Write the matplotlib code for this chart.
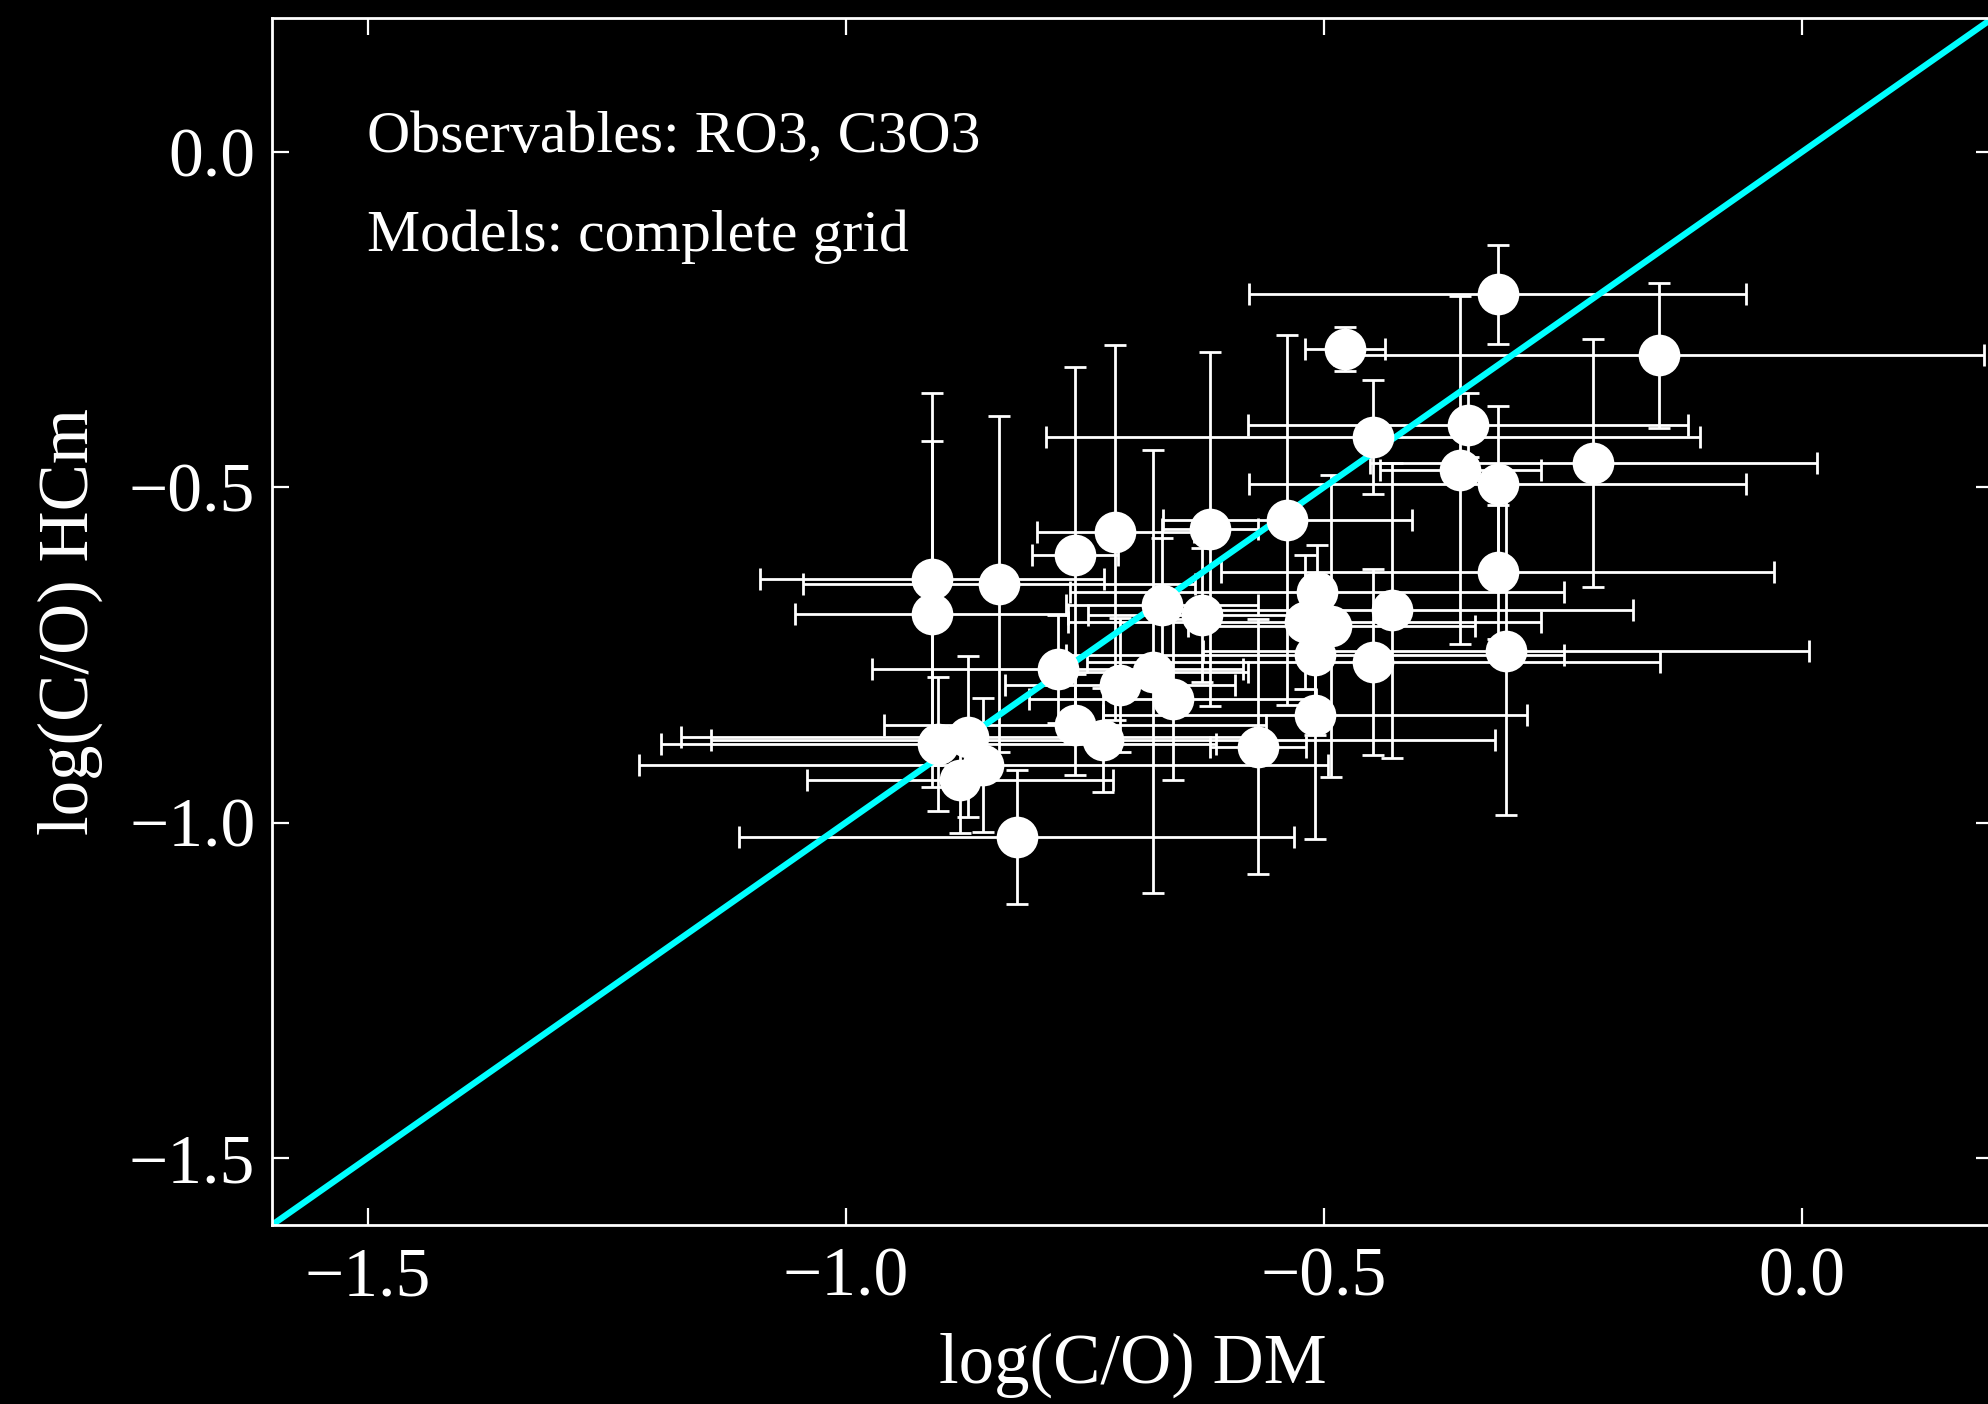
import matplotlib
matplotlib.use('Agg')
import matplotlib.pyplot as plt
import numpy as np

# --- data ---
co_dm = [-0.318, -0.478, -0.149, -0.349, -0.448, -0.218, -0.357, -0.318, -0.538, -0.619,
         -0.718, -0.760, -0.318, -0.910, -0.840, -0.507, -0.669, -0.627, -0.429, -0.910,
         -0.520, -0.492, -0.509, -0.309, -0.448, -0.778, -0.679, -0.713, -0.658, -0.509,
         -0.760, -0.731, -0.569, -0.903, -0.872, -0.856, -0.880, -0.821]
co_hcm = [-0.212, -0.294, -0.303, -0.407, -0.425, -0.464, -0.474, -0.495, -0.549, -0.562,
          -0.567, -0.601, -0.626, -0.637, -0.644, -0.656, -0.676, -0.690, -0.683, -0.689,
          -0.701, -0.707, -0.750, -0.744, -0.760, -0.771, -0.775, -0.795, -0.816, -0.839,
          -0.854, -0.877, -0.887, -0.883, -0.872, -0.914, -0.936, -1.021]
err_dm = [0.26, 0.042, 0.34, 0.23, 0.342, 0.234, 0.084, 0.26, 0.13, 0.05,
          0.082, 0.045, 0.289, 0.18, 0.205, 0.258, 0.10, 0.12, 0.252, 0.143,
          0.247, 0.15, 0.26, 0.317, 0.30, 0.194, 0.10, 0.12, 0.15, 0.222,
          0.20, 0.41, 0.05, 0.29, 0.30, 0.36, 0.16, 0.29]
err_hcm = [0.074, 0.033, 0.108, 0.048, 0.085, 0.185, 0.26, 0.116, 0.276, 0.264,
           0.28, 0.28, 0.10, 0.277, 0.25, 0.07, 0.10, 0.10, 0.22, 0.258,
           0.10, 0.225, 0.12, 0.244, 0.139, 0.08, 0.33, 0.10, 0.12, 0.186,
           0.075, 0.078, 0.19, 0.10, 0.12, 0.10, 0.08, 0.10]

lims = [-1.6, 0.2]
ticks = [-1.5, -1.0, -0.5, 0.0]

plt.rcParams['font.family'] = ['Liberation Serif', 'DejaVu Serif']

fig = plt.figure(figsize=(19.88, 14.04), dpi=100, facecolor='black')
ax = fig.add_axes([0.1368, 0.1275, 0.8657, 0.8597])
ax.set_facecolor('black')

# error bars first, then the 1:1 line, then the dots on top
ax.errorbar(co_dm, co_hcm, xerr=err_dm, yerr=err_hcm, fmt='none',
            ecolor='white', elinewidth=2.0, capsize=8, capthick=2.0, zorder=1)
ax.plot(lims, lims, color='cyan', lw=4.5, zorder=2)
ax.plot(co_dm, co_hcm, 'o', color='white', markersize=30, markeredgewidth=0, zorder=3)

ax.set_xlim(lims)
ax.set_ylim(lims)
ax.set_xticks(ticks)
ax.set_yticks(ticks)
ax.tick_params(direction='in', length=12, width=1.6, colors='white',
               labelsize=50, top=True, right=True)
ax.tick_params(axis='x', pad=16)
ax.tick_params(axis='y', pad=12)
for s in ax.spines.values():
    s.set_color('white')
    s.set_linewidth(2)

ax.set_xlabel('log(C/O) DM', fontsize=51, color='white', labelpad=16)
ax.set_ylabel('log(C/O) HCm', fontsize=51, color='white', labelpad=19)

ax.text(0.055, 0.889, 'Observables: RO3, C3O3', transform=ax.transAxes,
        fontsize=43, color='white', va='baseline')
ax.text(0.055, 0.807, 'Models: complete grid', transform=ax.transAxes,
        fontsize=43, color='white', va='baseline')

fig.savefig('out.png', dpi=100, facecolor='black')
